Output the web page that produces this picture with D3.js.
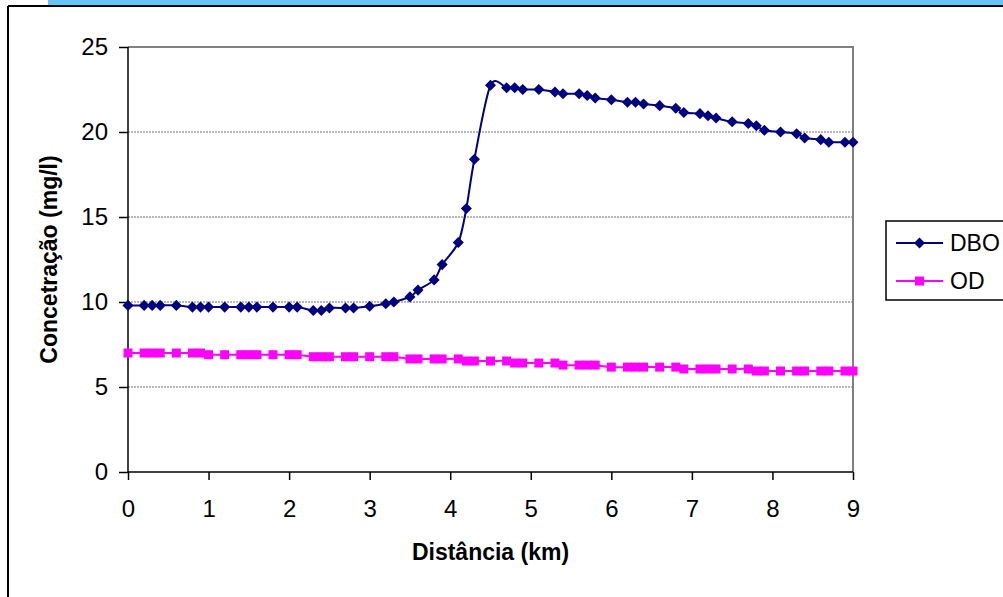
<!DOCTYPE html>
<html lang="pt">
<head>
    <meta charset="UTF-8">
    <title>DBO e OD ao longo do rio</title>
    <script src="https://cdnjs.cloudflare.com/ajax/libs/d3/7.8.5/d3.min.js"></script>
    <style>
        body { margin: 0; background: #fff; font-family: 'Liberation Sans', Arial, sans-serif; }
        svg { display: block; }
        .grid line { stroke: #707070; stroke-dasharray: 2,1; stroke-width: 1; }
        .axis path, .axis line { stroke: #000; stroke-width: 1.5; }
        .axis text { font-size: 24px; fill: #000; font-family: 'Liberation Sans', Arial, sans-serif; }
        .title { font-size: 23px; font-weight: bold; fill: #000; }
        .legend text { font-size: 23px; fill: #000; }
    </style>
</head>
<body>
<div id="chart"></div>
<script>
    // distance along the river (km)
    const distancia = [0, 0.2, 0.3, 0.4, 0.6, 0.8, 0.9, 1.0, 1.2, 1.4, 1.5, 1.6, 1.8, 2.0, 2.1,
        2.3, 2.4, 2.5, 2.7, 2.8, 3.0, 3.2, 3.3, 3.5, 3.6, 3.8, 3.9, 4.1, 4.2, 4.3,
        4.5, 4.7, 4.8, 4.9, 5.1, 5.3, 5.4, 5.6, 5.7, 5.8, 6.0, 6.2, 6.3, 6.4, 6.6,
        6.8, 6.9, 7.1, 7.2, 7.3, 7.5, 7.7, 7.8, 7.9, 8.1, 8.3, 8.4, 8.6, 8.7, 8.9, 9.0];

    const dbo = [9.8, 9.8, 9.8, 9.8, 9.8, 9.7, 9.7, 9.7, 9.7, 9.7, 9.7, 9.7, 9.7, 9.7, 9.7,
        9.5, 9.5, 9.65, 9.65, 9.65, 9.75, 9.9, 10.0, 10.3, 10.7, 11.3, 12.2, 13.5, 15.5, 18.4,
        22.75, 22.6, 22.6, 22.5, 22.5, 22.35, 22.25, 22.25, 22.15, 22.0, 21.9, 21.75, 21.75, 21.65, 21.55,
        21.4, 21.15, 21.08, 20.96, 20.82, 20.6, 20.5, 20.37, 20.1, 20.0, 19.9, 19.65, 19.55, 19.4, 19.4, 19.4];

    const od = [7.0, 7.0, 7.0, 7.0, 7.0, 7.0, 7.0, 6.9, 6.9, 6.9, 6.9, 6.9, 6.9, 6.9, 6.9,
        6.78, 6.78, 6.78, 6.78, 6.78, 6.78, 6.78, 6.78, 6.65, 6.65, 6.65, 6.65, 6.65, 6.53, 6.53,
        6.53, 6.53, 6.41, 6.41, 6.41, 6.41, 6.29, 6.29, 6.29, 6.29, 6.17, 6.17, 6.17, 6.17, 6.17,
        6.17, 6.06, 6.06, 6.06, 6.06, 6.06, 6.06, 5.94, 5.94, 5.94, 5.94, 5.94, 5.94, 5.94, 5.94, 5.94];

    const xTicks = [0, 1, 2, 3, 4, 5, 6, 7, 8, 9];
    const yTicks = [0, 5, 10, 15, 20, 25];
    const seriesNames = ["DBO", "OD"];

    const W = 1003, H = 597;
    const plot = { left: 128, right: 853, top: 47, bottom: 472 };

    const svg = d3.select("#chart").append("svg")
        .attr("width", W).attr("height", H);

    // frame of the chart object
    svg.append("rect").attr("x", 48).attr("y", 0).attr("width", W - 48).attr("height", 5)
        .attr("fill", "#66c6f6");
    svg.append("line").attr("x1", 8).attr("x2", W).attr("y1", 6).attr("y2", 6)
        .attr("stroke", "#000").attr("stroke-width", 2);
    svg.append("line").attr("x1", 8).attr("x2", 8).attr("y1", 6).attr("y2", H)
        .attr("stroke", "#000").attr("stroke-width", 2);

    const x = d3.scaleLinear().domain([0, 9]).range([plot.left, plot.right]);
    const y = d3.scaleLinear().domain([0, 25]).range([plot.bottom, plot.top]);

    // gridlines
    svg.append("g").attr("class", "grid")
        .selectAll("line").data(yTicks.filter(d => d > 0 && d < 25)).join("line")
        .attr("x1", plot.left).attr("x2", plot.right)
        .attr("y1", d => y(d)).attr("y2", d => y(d));

    // plot area border (top/right grey)
    svg.append("path")
        .attr("d", `M${plot.left},${plot.top}H${plot.right}V${plot.bottom}`)
        .attr("fill", "none").attr("stroke", "#808080").attr("stroke-width", 2);

    const xAxis = svg.append("g").attr("class", "axis")
        .attr("transform", `translate(0,${plot.bottom})`)
        .call(d3.axisBottom(x).tickValues(xTicks).tickSize(8).tickSizeOuter(8).tickPadding(20));
    const yAxis = svg.append("g").attr("class", "axis")
        .attr("transform", `translate(${plot.left},0)`)
        .call(d3.axisLeft(y).tickValues(yTicks).tickSize(9).tickSizeOuter(0).tickPadding(11));
    yAxis.select(".domain").attr("d", `M0,${plot.top}V${plot.bottom}`);
    xAxis.select(".domain").attr("d", `M${plot.left},0H${plot.right}`);

    // axis titles
    svg.append("text").attr("class", "title")
        .attr("x", (plot.left + plot.right) / 2).attr("y", 560)
        .attr("text-anchor", "middle").text("Distância (km)");
    svg.append("text").attr("class", "title")
        .attr("transform", `translate(57,${(plot.top + plot.bottom) / 2}) rotate(-90)`)
        .attr("text-anchor", "middle").text("Concetração (mg/l)");

    const line = d3.line().curve(d3.curveCardinal.tension(0.1))
        .x(d => x(d[0])).y(d => y(d[1]));

    const dboPts = distancia.map((d, i) => [d, dbo[i]]);
    const odPts = distancia.map((d, i) => [d, od[i]]);

    const navy = "#000080", magenta = "#ff00ff";
    const diamond = d3.symbol().type(d3.symbolDiamond2).size(78);
    const sq = 9;

    svg.append("path").attr("d", line(odPts)).attr("fill", "none")
        .attr("stroke", magenta).attr("stroke-width", 2);
    svg.append("g").selectAll("rect").data(odPts).join("rect")
        .attr("x", d => x(d[0]) - sq / 2).attr("y", d => y(d[1]) - sq / 2)
        .attr("width", sq).attr("height", sq).attr("fill", magenta);

    svg.append("path").attr("d", line(dboPts)).attr("fill", "none")
        .attr("stroke", navy).attr("stroke-width", 2);
    svg.append("g").selectAll("path").data(dboPts).join("path")
        .attr("transform", d => `translate(${x(d[0])},${y(d[1])})`)
        .attr("d", diamond).attr("fill", navy);

    // legend
    const lg = svg.append("g").attr("class", "legend");
    lg.append("rect").attr("x", 886).attr("y", 221).attr("width", 130).attr("height", 79)
        .attr("fill", "#fff").attr("stroke", "#000").attr("stroke-width", 1.5);
    const colors = [navy, magenta];
    seriesNames.forEach((name, i) => {
        const ly = 243 + i * 38;
        lg.append("line").attr("x1", 896).attr("x2", 943).attr("y1", ly).attr("y2", ly)
            .attr("stroke", colors[i]).attr("stroke-width", 2);
        if (i === 0) {
            lg.append("path").attr("transform", `translate(919.5,${ly})`).attr("d", diamond).attr("fill", navy);
        } else {
            lg.append("rect").attr("x", 919.5 - sq / 2).attr("y", ly - sq / 2).attr("width", sq).attr("height", sq).attr("fill", magenta);
        }
        lg.append("text").attr("x", 950).attr("y", ly + 8).text(name);
    });
</script>
</body>
</html>
